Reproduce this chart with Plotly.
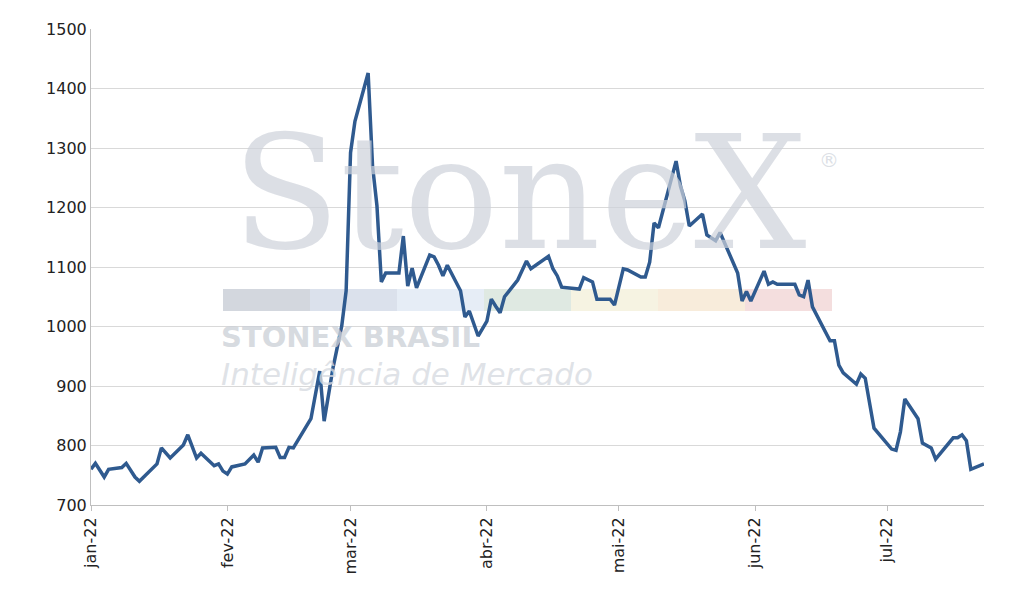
import plotly.graph_objects as go

dates = ["2022-01-01","2022-01-02","2022-01-04","2022-01-05","2022-01-08","2022-01-09","2022-01-11","2022-01-12","2022-01-16","2022-01-17","2022-01-19","2022-01-22","2022-01-23","2022-01-25","2022-01-26","2022-01-29","2022-01-30","2022-01-31",
"2022-02-01","2022-02-02","2022-02-05","2022-02-07","2022-02-08","2022-02-09","2022-02-12","2022-02-13","2022-02-14","2022-02-15","2022-02-16","2022-02-20","2022-02-22","2022-02-23","2022-02-25","2022-02-27","2022-02-28",
"2022-03-01","2022-03-02","2022-03-05","2022-03-06","2022-03-07","2022-03-08","2022-03-09","2022-03-12","2022-03-13","2022-03-14","2022-03-15","2022-03-16","2022-03-19","2022-03-20","2022-03-21","2022-03-22","2022-03-23","2022-03-26","2022-03-27","2022-03-28","2022-03-30",
"2022-04-01","2022-04-02","2022-04-03","2022-04-04","2022-04-05","2022-04-08","2022-04-10","2022-04-11","2022-04-15","2022-04-16","2022-04-17","2022-04-18","2022-04-22","2022-04-23","2022-04-25","2022-04-26","2022-04-29","2022-04-30",
"2022-05-02","2022-05-03","2022-05-06","2022-05-07","2022-05-08","2022-05-09","2022-05-10","2022-05-14","2022-05-15","2022-05-16","2022-05-17","2022-05-20","2022-05-21","2022-05-23","2022-05-24","2022-05-28","2022-05-29","2022-05-30","2022-05-31",
"2022-06-03","2022-06-04","2022-06-05","2022-06-06","2022-06-10","2022-06-11","2022-06-12","2022-06-13","2022-06-14","2022-06-18","2022-06-19","2022-06-20","2022-06-21","2022-06-24","2022-06-25","2022-06-26","2022-06-28",
"2022-07-02","2022-07-03","2022-07-04","2022-07-05","2022-07-08","2022-07-09","2022-07-11","2022-07-12","2022-07-16","2022-07-17","2022-07-18","2022-07-19","2022-07-20","2022-07-23"]
values = [760,770,747,760,763,770,747,740,769,796,779,801,818,779,787,766,769,757,
752,764,769,784,772,796,797,780,780,797,796,845,925,841,930,1001,1060,
1292,1345,1426,1270,1203,1075,1090,1090,1152,1068,1098,1065,1120,1117,1103,1085,1103,1060,1016,1026,984,
1009,1046,1034,1023,1050,1078,1110,1097,1118,1097,1085,1066,1063,1082,1075,1046,1046,1036,
1097,1095,1083,1083,1108,1174,1166,1278,1236,1211,1169,1189,1154,1144,1158,1090,1043,1059,1043,
1093,1071,1075,1071,1071,1053,1050,1078,1033,976,976,935,922,903,920,913,829,
794,792,823,878,845,804,796,777,813,813,818,808,760,769]
tick_vals = ["2022-01-01","2022-02-01","2022-03-01","2022-04-01","2022-05-01","2022-06-01","2022-07-01"]
tick_text = ["jan-22","fev-22","mar-22","abr-22","mai-22","jun-22","jul-22"]

fig = go.Figure(go.Scatter(x=dates, y=values, mode="lines",
                           line=dict(color="#2f5a8f", width=3.5)))

OFF = 7
L, R, T, B = 90, 983, 28, 504
W, H = R - L, B - T
def px(x): return (x - L) / W
def py(y): return (B - y) / H

shapes = []
bar_cols = ["#d3d7de","#dbe1ec","#e6edf6","#dfe9e2","#f6f3e2","#f8ecdb","#f4dede"]
x0 = 222
for i, c in enumerate(bar_cols):
    shapes.append(dict(type="rect", xref="paper", yref="paper", layer="below",
                       x0=px(x0 + i * 87), x1=px(x0 + (i + 1) * 87), y0=py(310), y1=py(288),
                       fillcolor=c, line=dict(width=0)))
annotations = [
    dict(text="StoneX", x=px(518), y=py(192), xref="paper", yref="paper", showarrow=False,
         font=dict(family="DejaVu Serif", size=158, color="rgba(205,210,218,0.7)")),
    dict(text="®", x=px(840), y=py(145), xref="paper", yref="paper", showarrow=False,
         font=dict(family="DejaVu Sans", size=20, color="rgba(205,210,218,0.7)")),
    dict(text="<b>STONEX BRASIL</b>", x=px(218), y=py(355), xref="paper", yref="paper", showarrow=False,
         xanchor="left", font=dict(family="DejaVu Sans", size=29, color="rgba(205,209,216,0.8)")),
    dict(text="<i>Inteligência de Mercado</i>", x=px(218), y=py(393), xref="paper", yref="paper", showarrow=False,
         xanchor="left", font=dict(family="DejaVu Sans", size=31, color="rgba(215,219,225,0.8)")),
]

fig.update_layout(
    width=1011, height=600, paper_bgcolor="white", plot_bgcolor="white",
    margin=dict(l=L - OFF, r=1011 - R + OFF, t=T - OFF, b=600 - B + OFF),
    showlegend=False, shapes=shapes, annotations=annotations,
    font=dict(family="DejaVu Sans", size=16, color="#222"),
    xaxis=dict(range=["2022-01-01", "2022-07-23"], tickvals=tick_vals, ticktext=tick_text,
               tickangle=-90, showgrid=False, showline=True, linecolor="#bfbfbf",
               ticks="outside", tickcolor="#bfbfbf", ticklen=5),
    yaxis=dict(range=[700, 1500], dtick=100, showgrid=True, gridcolor="#d9d9d9",
               showline=True, linecolor="#bfbfbf", zeroline=False),
)
fig.write_html("out.html")
